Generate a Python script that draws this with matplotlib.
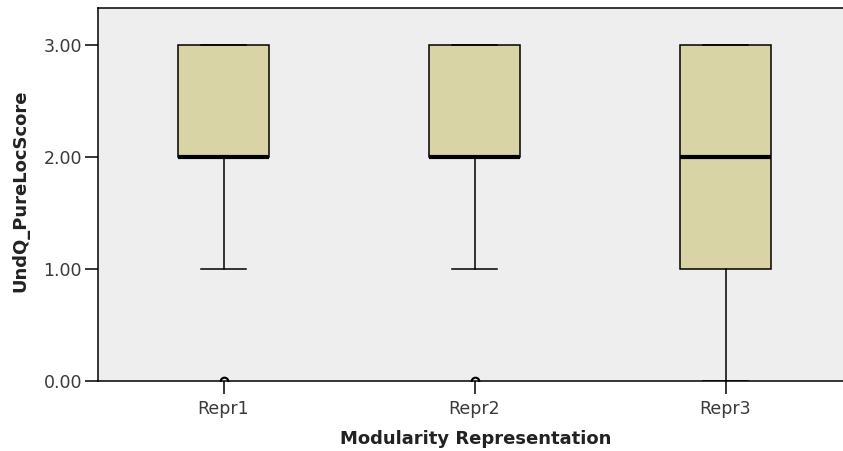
import matplotlib
matplotlib.use('Agg')
import matplotlib.pyplot as plt

# ── Data (SPSS-style boxplot summary) ───────────────────────────────────────
groups = ["Repr1", "Repr2", "Repr3"]
q1 = [2.0, 2.0, 1.0]
med = [2.0, 2.0, 2.0]
q3 = [3.0, 3.0, 3.0]
whislo = [1.0, 1.0, 0.0]
whishi = [3.0, 3.0, 3.0]
fliers = [[0.0], [0.0], []]
yticks = [0.0, 1.0, 2.0, 3.0]

stats = [
    dict(label=g, q1=a, med=m, q3=b, whislo=lo, whishi=hi, fliers=f)
    for g, a, m, b, lo, hi, f in zip(groups, q1, med, q3, whislo, whishi, fliers)
]

W, H = 843, 451
fig = plt.figure(figsize=(W / 100, H / 100), dpi=100)
ax = fig.add_axes([98 / W, (H - 381) / H, (851 - 98) / W, (381 - 8.3) / H])
ax.set_facecolor('#eeeeee')

ax.bxp(stats, positions=[1, 2, 3], widths=0.36, patch_artist=True,
       boxprops=dict(facecolor='#d8d4a6', edgecolor='black', linewidth=1.1),
       medianprops=dict(color='black', linewidth=3.0, solid_capstyle='butt'),
       whiskerprops=dict(color='black', linewidth=1.1),
       capprops=dict(color='black', linewidth=1.1),
       capwidths=0.18,
       flierprops=dict(marker='o', markersize=5.5, markerfacecolor='none',
                       markeredgecolor='black', markeredgewidth=1.5),
       zorder=3)

ax.set_xlim(0.5, 3.5)
ax.set_ylim(0, 3.33)
ax.set_xticks([1, 2, 3])
ax.set_xticklabels(groups)
ax.set_yticks(yticks)
ax.set_yticklabels([f"{v:.2f}" for v in yticks])

for s in ax.spines.values():
    s.set_color('black')
    s.set_linewidth(1.1)
    s.set_zorder(4)

ax.tick_params(axis='both', direction='out', length=9.5, width=1.1,
               colors='black', labelcolor='#3a3a3a', labelsize=12.5)
ax.tick_params(axis='y', pad=2)
ax.tick_params(axis='x', pad=4)

fig.text(20 / W, (H - 191) / H, "UndQ_PureLocScore", rotation=90,
         ha='center', va='center', fontsize=13, fontweight='bold', color='#222222')
fig.text(476 / W, (H - 439) / H, "Modularity Representation",
         ha='center', va='center', fontsize=13, fontweight='bold', color='#222222')

fig.savefig("out.png", dpi=100)
